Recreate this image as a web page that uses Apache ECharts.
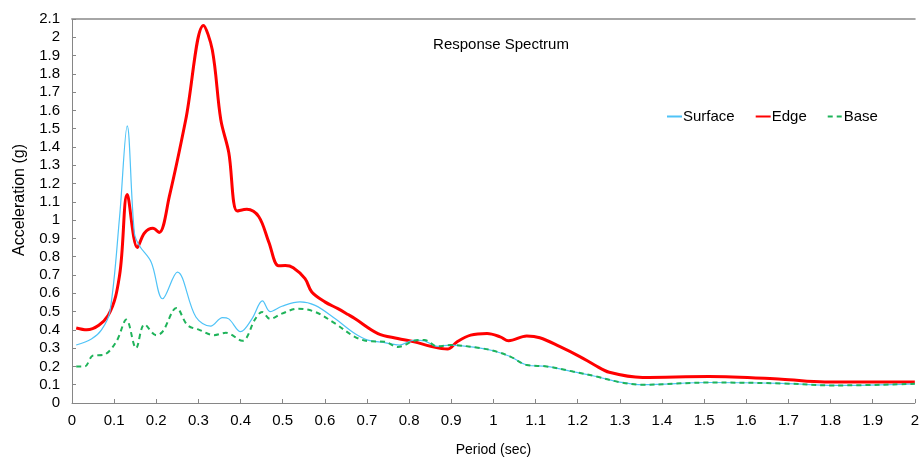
<!DOCTYPE html>
<html>
<head>
<meta charset="utf-8">
<style>
html,body{margin:0;padding:0;background:#fff;}
#chart{width:922px;height:462px;}
</style>
<script src="https://cdn.jsdelivr.net/npm/echarts@6/dist/echarts.min.js"></script>
</head>
<body>
<div id="chart"></div>
<script>
// ---- Data ----
var surfacePeriod = [0.01,0.046,0.07,0.09,0.113,0.131,0.148,0.16,0.188,0.215,0.25,0.294,0.329,0.357,0.372,0.40,0.427,0.452,0.47,0.498,0.541,0.577,0.624,0.671,0.702,0.742,0.777,0.812,0.836,0.867,0.898,0.969,1.0,1.04,1.079,1.126,1.189,1.244,1.30,1.354,1.511,1.684,1.81,2.0];
var surfaceAcc    = [0.317,0.35,0.40,0.50,1.02,1.516,0.93,0.86,0.77,0.57,0.716,0.47,0.42,0.467,0.46,0.39,0.46,0.558,0.50,0.529,0.553,0.534,0.462,0.38,0.344,0.33,0.317,0.344,0.34,0.31,0.317,0.30,0.286,0.254,0.208,0.20,0.172,0.145,0.114,0.10,0.112,0.107,0.096,0.105];

var edgePeriod = [0.01,0.035,0.086,0.113,0.131,0.155,0.172,0.192,0.207,0.231,0.27,0.312,0.333,0.353,0.372,0.392,0.415,0.443,0.467,0.49,0.506,0.525,0.553,0.569,0.60,0.631,0.655,0.671,0.726,0.773,0.812,0.851,0.891,0.914,0.946,0.985,1.016,1.036,1.079,1.11,1.158,1.205,1.24,1.275,1.354,1.511,1.684,1.786,2.0];
var edgeAcc    = [0.41,0.40,0.48,0.70,1.14,0.85,0.93,0.955,0.933,1.13,1.55,2.065,1.93,1.55,1.37,1.05,1.06,1.02,0.88,0.75,0.752,0.74,0.68,0.607,0.553,0.516,0.484,0.462,0.38,0.353,0.335,0.31,0.295,0.335,0.371,0.38,0.362,0.34,0.366,0.357,0.308,0.254,0.208,0.168,0.14,0.145,0.13,0.115,0.115];

var basePeriod = [0.01,0.03,0.05,0.074,0.105,0.129,0.152,0.172,0.20,0.215,0.248,0.274,0.302,0.337,0.365,0.404,0.435,0.451,0.47,0.498,0.537,0.577,0.624,0.671,0.702,0.742,0.773,0.812,0.836,0.867,0.898,0.969,1.0,1.04,1.079,1.126,1.189,1.244,1.30,1.354,1.511,1.684,1.81,2.0];
var baseAcc    = [0.20,0.20,0.26,0.263,0.335,0.456,0.30,0.43,0.371,0.39,0.52,0.426,0.40,0.371,0.384,0.34,0.46,0.498,0.46,0.489,0.516,0.498,0.435,0.362,0.339,0.335,0.306,0.34,0.345,0.31,0.317,0.30,0.286,0.254,0.208,0.20,0.172,0.145,0.114,0.10,0.112,0.107,0.096,0.105];

var seriesNames = ['Surface','Edge','Base'];
var titleText = 'Response Spectrum';
var xName = 'Period (sec)';
var yName = 'Acceleration (g)';

function pairs(xs, ys){ return xs.map(function(x,i){ return [x, ys[i]]; }); }
function fmt(v){ return String(Math.round(v*10)/10); }

var FONT = 'Liberation Sans, Arial, sans-serif';
var chart = echarts.init(document.getElementById('chart'), null, {renderer:'canvas'});
chart.setOption({
  backgroundColor:'#ffffff',
  animation:false,
  title:{ text:titleText, left:496, textAlign:'center', top:32,
    textStyle:{ fontFamily:FONT, fontSize:15, fontWeight:'normal', color:'#000' } },
  legend:{ data:seriesNames, left:661, top:104, itemWidth:15, itemHeight:14, itemGap:20,
    itemStyle:{ opacity:0 },
    textStyle:{ fontFamily:FONT, fontSize:15, color:'#000', padding:[0,0,0,-4] } },
  grid:{ left:72, right:1, top:19, bottom:57, containLabel:false },
  xAxis:[{
    type:'value', min:0, max:2, interval:0.1, position:'bottom',
    name:xName, nameLocation:'middle', nameGap:40,
    nameTextStyle:{ fontFamily:FONT, fontSize:14, color:'#000' },
    axisLine:{ show:true, lineStyle:{ color:'#868686', width:1 } },
    axisTick:{ show:true, inside:true, length:4, lineStyle:{ color:'#868686' } },
    axisLabel:{ fontFamily:FONT, fontSize:15, color:'#000', margin:10, formatter:fmt, showMaxLabel:true, showMinLabel:true },
    splitLine:{ show:false }
  },{
    type:'value', min:0, max:2, position:'top',
    axisLine:{ show:true, lineStyle:{ color:'#a6a6a6', width:2 } },
    axisTick:{ show:false }, axisLabel:{ show:false }, splitLine:{ show:false }
  }],
  yAxis:{
    type:'value', min:0, max:2.1, interval:0.1,
    name:yName, nameLocation:'middle', nameGap:44, nameRotate:90,
    nameTextStyle:{ fontFamily:FONT, fontSize:16, color:'#000', padding:[0,0,0,22] },
    axisLine:{ show:true, lineStyle:{ color:'#868686', width:1 } },
    axisTick:{ show:true, inside:true, length:4, lineStyle:{ color:'#868686' } },
    axisLabel:{ fontFamily:FONT, fontSize:15, color:'#000', margin:12, formatter:fmt },
    splitLine:{ show:false }
  },
  series:[
    { name:seriesNames[0], type:'line', data:pairs(surfacePeriod, surfaceAcc), showSymbol:false, symbol:'none',
      smooth:0.35, lineStyle:{ color:'#4fc3f7', width:1.2 }, itemStyle:{ color:'#4fc3f7' }, z:3 },
    { name:seriesNames[1], type:'line', data:pairs(edgePeriod, edgeAcc), showSymbol:false, symbol:'none',
      smooth:0.35, lineStyle:{ color:'#ff0000', width:3 }, itemStyle:{ color:'#ff0000' }, z:2 },
    { name:seriesNames[2], type:'line', data:pairs(basePeriod, baseAcc), showSymbol:false, symbol:'none',
      smooth:0.35, lineStyle:{ color:'#1fb35a', width:2, type:[5,4] }, itemStyle:{ color:'#1fb35a' }, z:4 }
  ]
});
</script>
</body>
</html>
